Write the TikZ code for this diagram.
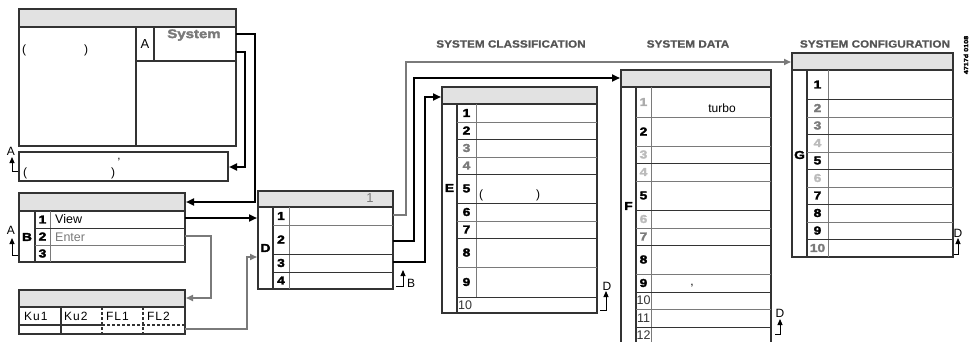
\documentclass[tikz,border=0pt]{standalone}
\usepackage{fontspec}
\setmainfont{Liberation Sans}
\newfontfamily\heavy[FakeStretch=1.2,FakeBold=2.5]{Liberation Sans Bold}
\newfontfamily\hdrfont[FakeStretch=1.12,FakeBold=1]{Liberation Sans Bold}
\newfontfamily\widefont[LetterSpace=8]{Liberation Sans}
\usetikzlibrary{arrows.meta}
\definecolor{hdrgray}{HTML}{E2E2E2}
\definecolor{ln}{HTML}{333333}
\definecolor{gl}{HTML}{7A7A7A}
\definecolor{gt}{HTML}{7A7A7A}
\definecolor{lt}{HTML}{BBBBBB}
\definecolor{htxt}{HTML}{555555}
\newcommand\tbl[8]{%
  \fill[hdrgray] (#1,#2) rectangle (#3,#4);
  \draw[frame] (#1,#2) rectangle (#3,#7);
  \draw[frame] (#1,#4) -- (#3,#4);
  \draw[frame] (#5,#4) -- (#5,#7);
  \draw[rule] (#6,#4) -- (#6,#8);}
\newcommand\nm[4]{\node[num,text=#3] at (#1,#2) {#4};}
\newcommand\retmk[4]{% x foot, x stem, y bottom, y top
  \draw[mk] (#1,#3) -- (#2,#3) -- (#2,#4);}
\begin{document}
\begin{tikzpicture}[x=1pt,y=-1pt,
  frame/.style={draw=ln,line width=1.1pt},
  rule/.style={draw=gl,line width=0.8pt},
  bl/.style={draw=ln,line width=0.9pt},
  conn/.style={draw=black,line width=2pt,-{Triangle[length=8pt,width=7pt]}},
  gconn/.style={draw=gl,line width=1.6pt,-{Triangle[length=7pt,width=6pt]}},
  mk/.style={draw=black,line width=0.9pt,-{Triangle[length=6pt,width=5pt]}},
  num/.style={font=\heavy\fontsize{11.5}{11.5}\selectfont,inner sep=0pt},
  txt/.style={font=\fontsize{12}{12}\selectfont,inner sep=0pt},
  lab/.style={font=\heavy\fontsize{11.5}{11.5}\selectfont,inner sep=0pt},
  hd/.style={font=\hdrfont\fontsize{10.5}{11}\selectfont,text=htxt,inner sep=0pt}]
\useasboundingbox (0,0) rectangle (969,342);
\clip (0,0) rectangle (969,342);

% ---------- top-left screen ----------
\fill[hdrgray] (19,9) rectangle (236,27);
\draw[frame] (19,9) rectangle (236,146);
\draw[frame] (19,27) -- (236,27);
\draw[frame] (136,27) -- (136,146);
\draw[frame] (154,27) -- (154,61);
\draw[frame] (136,61) -- (236,61);
\node[txt,font=\fontsize{13}{13}\selectfont] (tlA) at (145,44) {A};
\node[font=\heavy\fontsize{12.5}{13}\selectfont,text=gt,inner sep=0pt] (sys) at (194,35) {System};
\node[txt,anchor=west] (tlp1) at (22,50) {(};
\node[txt,anchor=west] (tlp2) at (84,50) {)};
\coordinate (sysR1) at (236,34);
\coordinate (sysR2) at (236,52);

% lower bar
\draw[frame] (19,152) rectangle (228,181);
\node[txt,anchor=west] (lbp1) at (23,173) {(};
\node[txt,anchor=west] (lbp2) at (111,173) {)};
\node[txt] (lbq) at (119,162) {’};
\coordinate (lbR) at (229,167);
\node[txt] (mkA1) at (11,151) {A};
\retmk{18}{12}{171}{157}

% ---------- B box ----------
\tbl{19}{193}{185}{211}{35}{50}{262}{262}
\draw[bl] (35,228) -- (185,228);
\draw[rule] (35,245) -- (185,245);
\node[lab] (Blab) at (27,237) {B};
\nm{42.5}{219.5}{black}{1}
\nm{42.5}{236.5}{black}{2}
\nm{42.5}{253.5}{black}{3}
\node[txt,anchor=west,font=\fontsize{12.5}{12}\selectfont] (view) at (55,219) {View};
\node[txt,anchor=west,text=gt,font=\fontsize{12.5}{12}\selectfont] (enter) at (55,237) {Enter};
\node[txt] (mkA2) at (11,230) {A};
\retmk{18}{12}{255}{238}
\coordinate (Bhdr) at (186,202);
\coordinate (Bv) at (185,218);
\coordinate (Be) at (185,236);

% ---------- Ku box ----------
\fill[hdrgray] (19,290) rectangle (185,307);
\draw[frame] (19,290) rectangle (185,334);
\draw[frame] (19,307) -- (185,307);
\draw[frame] (61,307) -- (61,334);
\draw[frame] (19,325) -- (102,325);
\draw[frame,dash pattern=on 3pt off 2pt] (102,325) -- (185,325);
\draw[frame,dash pattern=on 3pt off 2pt] (102,307) -- (102,334);
\draw[frame,dash pattern=on 3pt off 2pt] (143,307) -- (143,334);
\node[txt,font=\widefont\fontsize{12}{12}\selectfont,anchor=west] (ku1) at (24,316) {Ku1};
\node[txt,font=\widefont\fontsize{12}{12}\selectfont,anchor=west] (ku2) at (64,316) {Ku2};
\node[txt,font=\widefont\fontsize{12}{12}\selectfont,anchor=west] (fl1) at (106,316) {FL1};
\node[txt,font=\widefont\fontsize{12}{12}\selectfont,anchor=west] (fl2) at (147,316) {FL2};
\coordinate (Kuhdr) at (186,298);
\coordinate (KuR) at (185,329);

% ---------- D box ----------
\tbl{258}{191}{393}{207}{273}{289}{289}{289}
\draw[rule] (273,225) -- (393,225);
\draw[bl] (273,254) -- (393,254);
\draw[bl] (273,272) -- (393,272);
\node[txt,text=gt,font=\fontsize{13}{13}\selectfont] (D1) at (370,198) {1};
\node[lab] (Dlab) at (265.5,248) {D};
\nm{281}{216}{black}{1}
\nm{281}{239.5}{black}{2}
\nm{281}{263}{black}{3}
\nm{281}{280.5}{black}{4}
\coordinate (Din1) at (257,218);
\coordinate (Din2) at (257,257);
\coordinate (Dr1) at (393,215);
\coordinate (Dr2) at (393,241);
\coordinate (Dr3) at (393,262);
\retmk{396}{403}{286}{270}
\node[txt] (mkB) at (411,283) {B};

% ---------- headings ----------
\node[hd] (h1) at (511,44) {SYSTEM CLASSIFICATION};
\node[hd] (h2) at (688,44) {SYSTEM DATA};
\node[hd] (h3) at (875,44) {SYSTEM CONFIGURATION};
\node[font=\heavy\fontsize{6}{6}\selectfont,rotate=90,inner sep=0pt] (code) at (966,55) {4717d 0108};

% ---------- E box ----------
\tbl{442}{87}{597}{104}{457}{476}{313}{297}
\draw[rule] (457,122) -- (597,122);
\draw[bl] (457,139) -- (597,139);
\draw[rule] (457,157) -- (597,157);
\draw[bl] (457,174) -- (597,174);
\draw[bl] (457,203) -- (597,203);
\draw[rule] (457,221) -- (597,221);
\draw[bl] (457,238) -- (597,238);
\draw[rule] (457,267) -- (597,267);
\draw[bl] (457,297) -- (597,297);
\node[lab] (Elab) at (449.5,188) {E};
\nm{466.5}{113}{black}{1}
\nm{466.5}{130.5}{black}{2}
\nm{466.5}{148}{gt}{3}
\nm{466.5}{165.5}{gt}{4}
\nm{466.5}{188.5}{black}{5}
\nm{466.5}{212}{black}{6}
\nm{466.5}{229.5}{black}{7}
\nm{466.5}{252.5}{black}{8}
\nm{466.5}{282}{black}{9}
\node[txt,anchor=west,text=ln,font=\fontsize{12.5}{12}\selectfont] (E10) at (458,305) {10};
\node[txt,anchor=west] (Ep1) at (479,195) {(};
\node[txt,anchor=west] (Ep2) at (536,195) {)};
\coordinate (Ehdr) at (441,97);
\node[txt] (mkD1) at (607,286) {D};
\retmk{600}{606}{310}{291}

% ---------- F box ----------
\tbl{621}{70}{771}{87}{636}{651}{360}{360}
\draw[rule] (636,117) -- (771,117);
\draw[rule] (636,146) -- (771,146);
\draw[bl] (636,163) -- (771,163);
\draw[rule] (636,181) -- (771,181);
\draw[bl] (636,210) -- (771,210);
\draw[rule] (636,228) -- (771,228);
\draw[bl] (636,245) -- (771,245);
\draw[rule] (636,274) -- (771,274);
\draw[bl] (636,292) -- (771,292);
\draw[rule] (636,309) -- (771,309);
\draw[bl] (636,327) -- (771,327);
\node[lab] (Flab) at (628.5,206) {F};
\nm{643.5}{102}{lt!75!gray}{1}
\nm{643.5}{131.5}{black}{2}
\nm{643.5}{154.5}{lt}{3}
\nm{643.5}{172}{lt}{4}
\nm{643.5}{195.5}{black}{5}
\nm{643.5}{219}{lt}{6}
\nm{643.5}{236.5}{gt}{7}
\nm{643.5}{259.5}{black}{8}
\nm{643.5}{283}{black}{9}
\node[txt,text=ln,font=\fontsize{12.5}{12}\selectfont] (F10) at (643.5,300.5) {10};
\node[txt,text=ln,font=\fontsize{12.5}{12}\selectfont] (F11) at (643.5,318) {11};
\node[txt,text=ln,font=\fontsize{12.5}{12}\selectfont] (F12) at (643.5,335.5) {12};
\node[txt] (turbo) at (722,108) {turbo};
\node[txt] (Fc) at (692,286) {,};
\coordinate (Fhdr) at (620,78);
\node[txt] (mkD2) at (780,313) {D};
\retmk{775}{780}{334}{319}

% ---------- G box ----------
\tbl{792}{53}{953}{70}{807}{828}{257}{257}
\draw[bl] (807,99) -- (953,99);
\draw[rule] (807,117) -- (953,117);
\draw[bl] (807,134) -- (953,134);
\draw[rule] (807,152) -- (953,152);
\draw[bl] (807,169) -- (953,169);
\draw[rule] (807,187) -- (953,187);
\draw[bl] (807,204) -- (953,204);
\draw[rule] (807,222) -- (953,222);
\draw[bl] (807,239) -- (953,239);
\node[lab] (Glab) at (799.5,155) {G};
\nm{817.5}{84.5}{black}{1}
\nm{817.5}{108}{gt}{2}
\nm{817.5}{125.5}{gt}{3}
\nm{817.5}{143}{lt}{4}
\nm{817.5}{160.5}{black}{5}
\nm{817.5}{178}{lt}{6}
\nm{817.5}{195.5}{black}{7}
\nm{817.5}{213}{black}{8}
\nm{817.5}{230.5}{black}{9}
\nm{817.5}{248}{gt}{10}
\coordinate (Ghdr) at (791,62);
\node[txt] (mkD3) at (958,233) {D};
\retmk{954}{958}{254}{238}

% ---------- connectors ----------
\draw[conn] (sysR1) -- (255,34) -- (255,202) -- (Bhdr);
\draw[conn] (sysR2) -- (245,52) -- (245,167) -- (lbR);
\draw[conn] (Bv) -- (Din1);
\draw[gconn] (Be) -- (211,236) -- (211,298) -- (Kuhdr);
\draw[gconn] (KuR) -- (247,329) -- (247,257) -- (Din2);
\draw[gconn] (Dr1) -- (406,215) -- (406,62) -- (Ghdr);
\draw[conn] (Dr2) -- (414,241) -- (414,78) -- (Fhdr);
\draw[conn] (Dr3) -- (425,262) -- (425,97) -- (Ehdr);
\end{tikzpicture}
\end{document}
